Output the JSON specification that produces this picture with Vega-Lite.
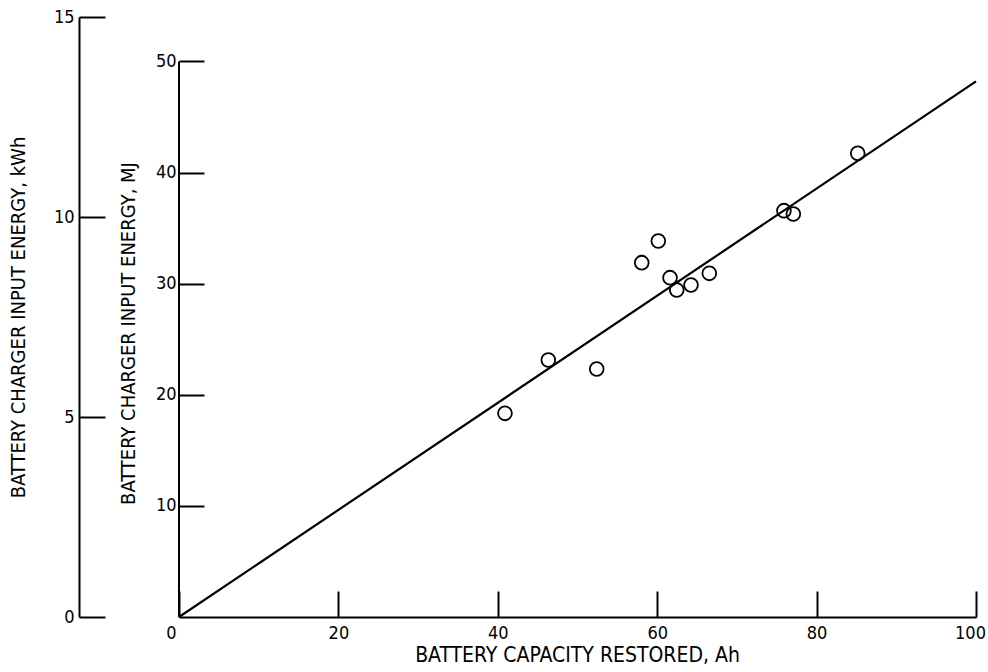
{
  "$schema": "https://vega.github.io/schema/vega-lite/v6.json",
  "width": 797,
  "height": 600,
  "autosize": {"type": "none"},
  "padding": {"left": 179, "top": 17, "right": 12, "bottom": 55},
  "background": "white",
  "config": {
    "view": {"stroke": null},
    "font": "DejaVu Sans Condensed, DejaVu Sans, sans-serif",
    "axis": {
      "grid": false,
      "domainColor": "black",
      "domainWidth": 2,
      "tickColor": "black",
      "tickWidth": 2,
      "labelColor": "black",
      "labelFontSize": 18,
      "labelFont": "DejaVu Sans Condensed, DejaVu Sans, sans-serif",
      "titleColor": "black",
      "titleFont": "DejaVu Sans Condensed, DejaVu Sans, sans-serif",
      "titleFontWeight": "normal",
      "titleFontSize": 20,
      "labelFlush": false,
      "labelOverlap": false
    }
  },
  "datasets": {
    "runs": [
      {"ah": 40.9, "mj": 18.33},
      {"ah": 46.34, "mj": 23.13},
      {"ah": 52.41, "mj": 22.32},
      {"ah": 58.06, "mj": 31.89},
      {"ah": 60.14, "mj": 33.84},
      {"ah": 61.61, "mj": 30.54},
      {"ah": 62.45, "mj": 29.43},
      {"ah": 64.24, "mj": 29.88},
      {"ah": 66.54, "mj": 30.93},
      {"ah": 75.9, "mj": 36.57},
      {"ah": 77.08, "mj": 36.27},
      {"ah": 85.16, "mj": 41.73}
    ],
    "fit": [
      {"ah": 0, "mj": 0},
      {"ah": 100, "mj": 48.2}
    ],
    "mjAxisLine": [
      {"ah": 0, "mj": 0, "mj2": 50}
    ],
    "kwhRange": [
      {"kwh": 0},
      {"kwh": 15}
    ]
  },
  "layer": [
    {
      "layer": [
        {
          "data": {"name": "mjAxisLine"},
          "mark": {"type": "rule", "color": "black", "strokeWidth": 2},
          "encoding": {
            "x": {"field": "ah", "type": "quantitative", "scale": {"domain": [0, 100]}},
            "y": {"field": "mj", "type": "quantitative", "scale": {"domain": [0, 54], "nice": false}},
            "y2": {"field": "mj2"}
          }
        },
        {
          "data": {"name": "fit"},
          "mark": {"type": "line", "color": "black", "strokeWidth": 2.2},
          "encoding": {
            "x": {"field": "ah", "type": "quantitative"},
            "y": {"field": "mj", "type": "quantitative"}
          }
        },
        {
          "data": {"name": "runs"},
          "mark": {"type": "point", "shape": "circle", "filled": false, "color": "black", "strokeWidth": 1.8, "size": 190, "opacity": 1},
          "encoding": {
            "x": {
              "field": "ah",
              "type": "quantitative",
              "axis": {
                "orient": "bottom",
                "values": [0, 20, 40, 60, 80, 100],
                "tickSize": -26,
                "labelPadding": 33,
                "labelOffset": {
                  "condition": [
                    {"test": "datum.value === 0", "value": -8},
                    {"test": "datum.value === 100", "value": -6}
                  ],
                  "value": 0
                },
                "title": "BATTERY CAPACITY RESTORED, Ah",
                "titleFontSize": 21,
                "titleX": 398,
                "titleY": 38,
                "titleAlign": "center",
                "titleBaseline": "middle"
              }
            },
            "y": {
              "field": "mj",
              "type": "quantitative",
              "axis": {
                "orient": "left",
                "values": [10, 20, 30, 40, 50],
                "domain": false,
                "tickSize": -25,
                "labelPadding": 28,
                "title": "BATTERY CHARGER INPUT ENERGY, MJ",
                "titleAngle": -90,
                "titleX": -51,
                "titleY": 316,
                "titleAlign": "center",
                "titleBaseline": "middle"
              }
            }
          }
        }
      ]
    },
    {
      "data": {"name": "kwhRange"},
      "mark": {"type": "point", "opacity": 0},
      "encoding": {
        "y": {
          "field": "kwh",
          "type": "quantitative",
          "scale": {"domain": [0, 15], "nice": false},
          "axis": {
            "orient": "left",
            "offset": 100,
            "values": [0, 5, 10, 15],
            "tickSize": -26,
            "labelPadding": 31,
            "title": "BATTERY CHARGER INPUT ENERGY, kWh",
            "titleAngle": -90,
            "titleX": -61,
            "titleY": 300,
            "titleAlign": "center",
            "titleBaseline": "middle"
          }
        }
      }
    }
  ],
  "resolve": {"scale": {"y": "independent"}}
}
